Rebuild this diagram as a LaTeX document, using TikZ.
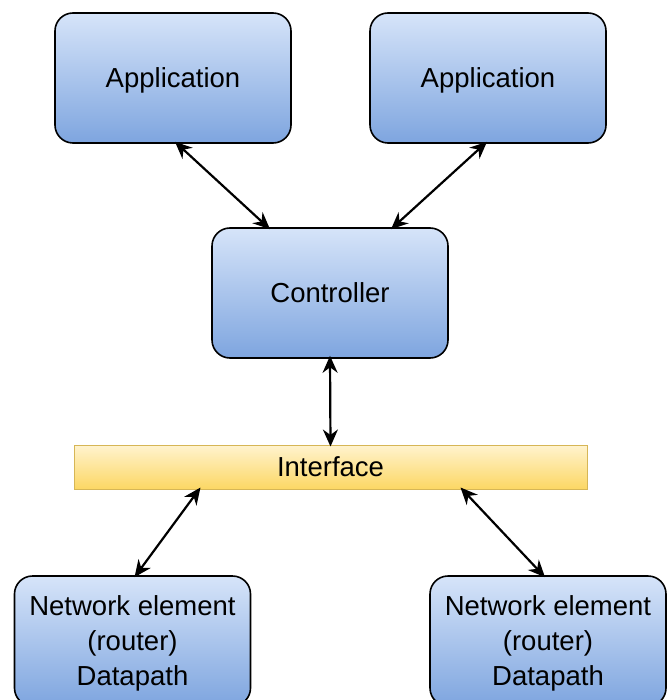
\documentclass[tikz,border=0pt]{standalone}
\usepackage{fontspec}
\setmainfont{Liberation Sans}
\usetikzlibrary{arrows.meta,calc}
\definecolor{blueTop}{HTML}{D6E4F9}
\definecolor{blueBot}{HTML}{7EA5DF}
\definecolor{yelTop}{HTML}{FFF3CE}
\definecolor{yelBot}{HTML}{FCD764}
\definecolor{yelEdge}{HTML}{D6B656}
\tikzset{
  unitbox/.style={draw=black, line width=1.6pt, rounded corners=18pt,
    top color=blueTop, bottom color=blueBot,
    minimum width=236pt, minimum height=130pt, inner sep=0pt,
    text depth=0pt,
    align=center, font=\fontsize{27.5}{35}\selectfont},
  ifacebar/.style={draw=yelEdge, line width=1pt,
    top color=yelTop, bottom color=yelBot,
    minimum width=513pt, minimum height=44pt, inner sep=0pt,
    font=\fontsize{27.5}{35}\selectfont},
  link/.style={line width=2.2pt, {Stealth[length=17pt,width=15pt]}-{Stealth[length=17pt,width=15pt]}}
}
\begin{document}
\begin{tikzpicture}[x=1pt,y=-1pt]
  \useasboundingbox (0,0) rectangle (669,700);
  \clip (0,0) rectangle (669,700);
  \node[unitbox] (app1) at (173,78) {Application};
  \node[unitbox] (app2) at (488,78) {Application};
  \node[unitbox] (ctrl) at (330,293) {Controller};
  \node[ifacebar] (iface) at (330.5,467) {Interface};
  \node[unitbox] (ne1) at (132.5,641) {Network element\\(router)\\Datapath};
  \node[unitbox] (ne2) at (548,641) {Network element\\(router)\\Datapath};
  % links between layers
  \draw[link] ($(app1.south)+(2,-2)$) -- ($(ctrl.north)+(-60,2)$);
  \draw[link] ($(app2.south)+(-1,-2)$) -- ($(ctrl.north)+(61,2)$);
  \draw[link] ($(ctrl.south)+(0,-3)$) -- ($(iface.north)+(0,2)$);
  \draw[link] ($(iface.south)+(-130,-2)$) -- ($(ne1.north)+(2,2)$);
  \draw[link] ($(iface.south)+(130,-2)$) -- ($(ne2.north)+(-3,2)$);
\end{tikzpicture}
\end{document}
